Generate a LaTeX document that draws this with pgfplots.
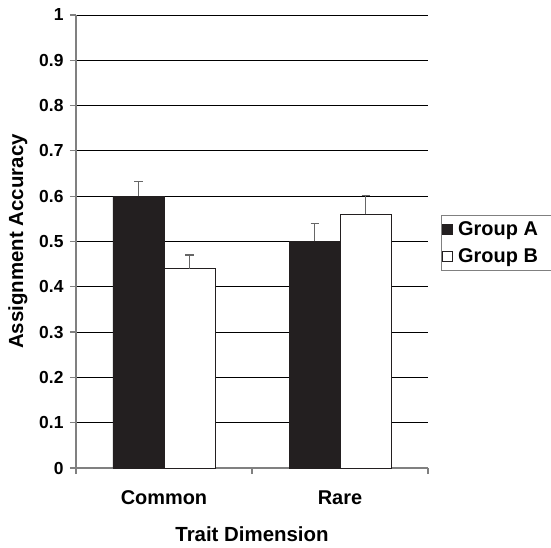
\documentclass[border=0pt]{standalone}
\usepackage{pgfplots}
\pgfplotsset{compat=1.18}
\usepackage{fontspec}
\setmainfont{Liberation Sans}
\definecolor{barblack}{HTML}{231F20}
\definecolor{axgray}{HTML}{808080}
\begin{document}
\begin{tikzpicture}
\begin{axis}[
  x=176bp, y=453bp,
  xmin=0, xmax=2, ymin=0, ymax=1,
  scale only axis,
  axis x line=bottom, axis y line=left,
  axis line style={-, axgray, line width=1.6bp},
  ybar=0pt, bar width=51bp,
  xtick={0,1,2}, xticklabels={,,},
  extra x ticks={0.5,1.5},
  extra x tick labels={Common,Rare},
  extra x tick style={major tick length=0pt, grid=none,
    tick label style={yshift=-19bp, font=\bfseries\fontsize{20}{24}\selectfont}},
  ytick={0,0.1,0.2,0.3,0.4,0.5,0.6,0.7,0.8,0.9,1},
  yticklabels={0,0.1,0.2,0.3,0.4,0.5,0.6,0.7,0.8,0.9,1},
  tick align=outside,
  major tick length=6bp,
  tick style={axgray, line width=1.2bp},
  ymajorgrids,
  grid style={black, line width=0.8bp},
  tick label style={font=\bfseries\fontsize{17.5}{20}\selectfont, black},
  yticklabel style={xshift=-3bp},
  label style={font=\bfseries\fontsize{20.5}{24}\selectfont},
  xlabel={Trait Dimension},
  ylabel={Assignment Accuracy},
  xlabel style={yshift=-9bp},
  ylabel style={yshift=5bp},
  legend style={at={(1.037,0.497)}, anchor=west, draw=axgray, line width=0.8bp,
    font=\bfseries\fontsize{20}{24}\selectfont, inner xsep=1bp, inner ysep=5bp,
    row sep=7bp, legend cell align=left,
    nodes={inner xsep=3bp}},
  legend image code/.code={\draw[#1, line width=0.8bp] (0bp,-5bp) rectangle (10bp,5bp);},
  error bars/y dir=plus, error bars/y explicit,
  error bars/error bar style={black!60, line width=1.2bp},
  error bars/error mark options={rotate=90, mark size=4bp, black!60, line width=1.2bp},
]
\addplot[fill=barblack, draw=barblack, line width=0.8bp] coordinates {
  (0.5,0.60) +- (0,0.032)
  (1.5,0.50) +- (0,0.040)
};
\addplot[fill=white, draw=barblack, line width=0.8bp] coordinates {
  (0.5,0.44) +- (0,0.030)
  (1.5,0.56) +- (0,0.042)
};
\legend{\kern2bp Group A\kern12bp,\kern2bp Group B\kern12bp}
\end{axis}
\pgfresetboundingbox
\path[use as bounding box] ([xshift=-76bp,yshift=-80bp]current axis.south west) rectangle ([xshift=123bp,yshift=15bp]current axis.north east);
\end{tikzpicture}
\end{document}
